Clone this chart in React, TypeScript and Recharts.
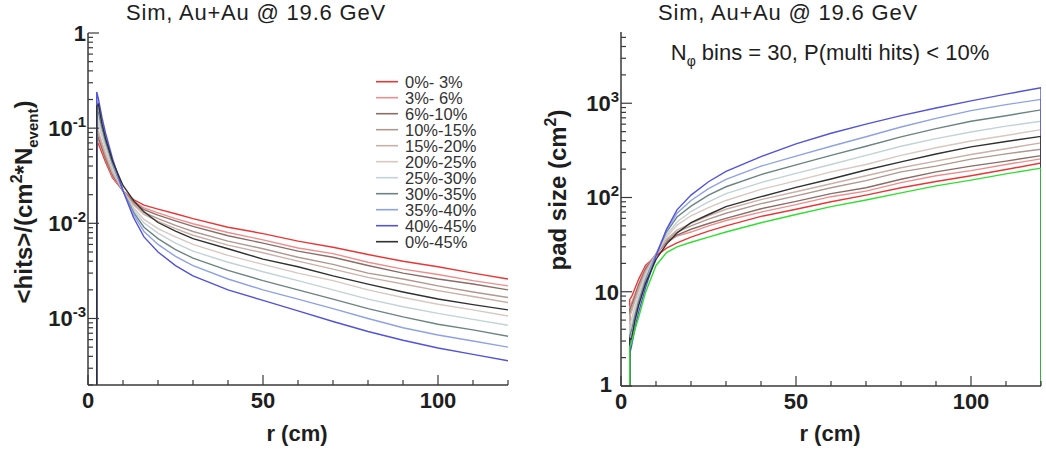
import React from 'react';
import { LineChart, Line, XAxis, YAxis } from 'recharts';

// r (cm) sampling points, shared by both panels
const R = [2.5, 3, 4, 5, 7, 10, 13, 16, 20, 25, 30, 40, 50, 60, 70, 80, 90, 100, 110, 120];

const CENT = ['0%- 3%', '3%- 6%', '6%-10%', '10%-15%', '15%-20%', '20%-25%', '25%-30%', '30%-35%', '35%-40%', '40%-45%', '0%-45%'];
const COLORS = ['#ee3434', '#f08c8c', '#8a6e66', '#b09890', '#cbb0a8', '#d8c8c0', '#c2d2d6', '#6c8480', '#8ea2e6', '#5252de', '#303030'];
const LIMIT_COLOR = '#30e030';

// left panel: <hits>/(cm^2 * N_event)
const hits00_03 = [0.072, 0.068, 0.055, 0.044, 0.030, 0.022, 0.0178, 0.0155, 0.0141, 0.0126, 0.0112, 0.0091, 0.0078, 0.0065, 0.0056, 0.0047, 0.0040, 0.0035, 0.0030, 0.0026];
const hits03_06 = [0.081, 0.074, 0.059, 0.047, 0.031, 0.022, 0.0171, 0.0145, 0.0129, 0.0112, 0.0099, 0.0080, 0.0067, 0.0055, 0.0048, 0.0039, 0.0033, 0.0029, 0.0025, 0.0022];
const hits06_10 = [0.086, 0.079, 0.062, 0.048, 0.032, 0.022, 0.0167, 0.0139, 0.0122, 0.0106, 0.0093, 0.0074, 0.0062, 0.0051, 0.0044, 0.0036, 0.0030, 0.0026, 0.0023, 0.0020];
const hits10_15 = [0.095, 0.086, 0.067, 0.051, 0.0335, 0.022, 0.0161, 0.0130, 0.0112, 0.0095, 0.0082, 0.0065, 0.0054, 0.0044, 0.0037, 0.0030, 0.0026, 0.0022, 0.0019, 0.00166];
const hits15_20 = [0.102, 0.092, 0.070, 0.054, 0.0345, 0.022, 0.0157, 0.0124, 0.0105, 0.0088, 0.0075, 0.0059, 0.0049, 0.0040, 0.0033, 0.0027, 0.0023, 0.00196, 0.0017, 0.00147];
const hits20_25 = [0.125, 0.110, 0.081, 0.060, 0.037, 0.022, 0.0146, 0.0110, 0.0088, 0.0072, 0.0060, 0.0046, 0.0037, 0.0030, 0.0025, 0.0020, 0.00166, 0.00141, 0.00123, 0.00106];
const hits25_30 = [0.143, 0.125, 0.089, 0.065, 0.039, 0.022, 0.0139, 0.0101, 0.0079, 0.0062, 0.0051, 0.0039, 0.0031, 0.0025, 0.0020, 0.0016, 0.00133, 0.00113, 0.00098, 0.00085];
const hits30_35 = [0.167, 0.144, 0.100, 0.072, 0.042, 0.022, 0.0131, 0.0091, 0.0069, 0.0053, 0.0043, 0.0032, 0.0025, 0.0020, 0.0016, 0.00127, 0.00104, 0.00087, 0.00076, 0.00065];
const hits35_40 = [0.196, 0.166, 0.111, 0.079, 0.044, 0.022, 0.0124, 0.0082, 0.0060, 0.0045, 0.0036, 0.0026, 0.0020, 0.0016, 0.00127, 0.00100, 0.0008, 0.00067, 0.00058, 0.0005];
const hits40_45 = [0.24, 0.20, 0.129, 0.089, 0.048, 0.022, 0.0115, 0.0072, 0.0050, 0.0036, 0.0028, 0.0020, 0.00155, 0.0012, 0.00093, 0.00073, 0.00059, 0.00049, 0.00042, 0.00036];
const hits00_45 = [0.17, 0.178, 0.11, 0.078, 0.045, 0.025, 0.0174, 0.0132, 0.0102, 0.0083, 0.0069, 0.0054, 0.0042, 0.0035, 0.0028, 0.0023, 0.0019, 0.0016, 0.0014, 0.00123];

// right panel: pad size (cm^2)
const pad00_03 = [8.3, 8.8, 10.9, 13.5, 19, 24, 29, 33, 38, 44, 50, 63, 75, 90, 106, 127, 148, 170, 198, 232];
const pad03_06 = [6.9, 7.6, 9.5, 11.9, 18, 25, 33, 39, 43, 50, 57, 70, 84, 102, 117, 144, 170, 193, 224, 257];
const pad06_10 = [6.5, 7.1, 9.0, 11.7, 17.5, 25, 34, 40, 46, 53, 60, 76, 91, 110, 127, 156, 187, 215, 243, 278];
const pad10_15 = [5.9, 6.5, 8.4, 11.0, 16.7, 25, 35, 43, 50, 59, 68, 86, 104, 127, 151, 187, 215, 255, 290, 325];
const pad15_20 = [5.5, 6.1, 8.0, 10.4, 16.2, 25, 36, 45, 53, 64, 75, 95, 115, 140, 170, 207, 243, 286, 329, 380];
const pad20_25 = [4.5, 5.1, 6.9, 9.3, 15.1, 25, 38, 51, 64, 78, 93, 122, 150, 187, 224, 280, 337, 397, 455, 525];
const pad25_30 = [3.9, 4.5, 6.3, 8.6, 14.4, 25, 40, 55, 71, 90, 110, 144, 180, 224, 280, 350, 421, 496, 571, 645];
const pad30_35 = [3.4, 3.9, 5.6, 7.8, 13.3, 25, 43, 62, 81, 106, 130, 175, 222, 280, 350, 440, 538, 644, 737, 850];
const pad35_40 = [2.9, 3.4, 5.0, 7.1, 12.7, 25, 45, 68, 93, 124, 156, 215, 275, 350, 441, 560, 690, 836, 966, 1100];
const pad40_45 = [2.2, 2.65, 4.1, 6.0, 11, 24, 46, 74, 106, 147, 189, 272, 370, 480, 600, 740, 890, 1060, 1250, 1460];
const pad00_45 = [3.2, 3.1, 5.0, 7.1, 12.2, 22, 32, 42, 54, 66, 80, 102, 128, 157, 196, 239, 289, 344, 393, 445];
const padLimit = [2.6, 2.9, 4.0, 5.3, 9.8, 19, 26, 30, 33.5, 38, 43, 54, 66, 80, 94, 112, 133, 153, 178, 205];

const HITS = [hits00_03, hits03_06, hits06_10, hits10_15, hits15_20, hits20_25, hits25_30, hits30_35, hits35_40, hits40_45, hits00_45];
const PADS = [pad00_03, pad03_06, pad06_10, pad10_15, pad15_20, pad20_25, pad25_30, pad30_35, pad35_40, pad40_45, pad00_45, padLimit];

const X_TICKS = [0, 10, 20, 30, 40, 50, 60, 70, 80, 90, 100, 110, 120];
const X_LABELS = [0, 50, 100];
const Y_LABELS_L = [{ v: 1, base: '1', exp: '' }, { v: 0.1, base: '10', exp: '-1' }, { v: 0.01, base: '10', exp: '-2' }, { v: 0.001, base: '10', exp: '-3' }];
const Y_LABELS_R = [{ v: 1, base: '1', exp: '' }, { v: 10, base: '10', exp: '' }, { v: 100, base: '10', exp: '2' }, { v: 1000, base: '10', exp: '3' }];

const DOM_L: [number, number] = [2e-4, 1];
const DOM_R: [number, number] = [1, 5700];

const FONT = '"Liberation Sans", Arial, Helvetica, sans-serif';
const FRAME = '#3a3a3a';
const TXT = '#1e1e1e';

function logTicks(lo: number, hi: number) {
  const out: number[] = [];
  for (let e = -4; e <= 3; e++) {
    for (let m = 1; m <= 9; m++) {
      const v = m * Math.pow(10, e);
      if (v >= lo * 0.999 && v <= hi * 1.001) out.push(v);
    }
  }
  return out;
}

const findLabel = (labels: typeof Y_LABELS_L, v: number) =>
  labels.find(l => Math.abs(Math.log10(l.v) - Math.log10(v)) < 1e-6);

// table with a leading vertical edge (histogram starts at r = 2.5) and optional drop at r = 120
function buildRows(series: number[][], floor: number, dropEnd: boolean) {
  const first: Record<string, number> = { r: R[0] };
  series.forEach((_, k) => { first[`s${k}`] = floor; });
  const body = R.map((r, i) => {
    const row: Record<string, number> = { r };
    series.forEach((s, k) => { row[`s${k}`] = s[i]; });
    return row;
  });
  const rows = [first, ...body];
  if (dropEnd) {
    const last: Record<string, number> = { r: R[R.length - 1] };
    series.forEach((_, k) => { last[`s${k}`] = floor; });
    rows.push(last);
  }
  return rows;
}

const leftRows = buildRows(HITS, DOM_L[0], false);
const rightRows = buildRows(PADS, DOM_R[0], true);

const XTick = (props: any) => {
  const { x, y, payload, side } = props;
  const v = payload.value;
  const major = X_LABELS.includes(v);
  const len = major ? 10 : 5;
  const dir = side === 'top' ? 1 : -1;
  return (
    <g>
      <line x1={x} x2={x} y1={y} y2={y + dir * len} stroke={FRAME} strokeWidth={1.2} />
      {side === 'bottom' && major && (
        <text x={x} y={y + 23} textAnchor="middle" fontFamily={FONT} fontWeight="bold" fontSize={22} fill={TXT}>
          {v}
        </text>
      )}
    </g>
  );
};

const YTick = (props: any) => {
  const { x, y, payload, side, labels, bottomShift } = props;
  const lab = findLabel(labels, payload.value);
  const len = lab ? 11 : 5;
  const dir = side === 'left' ? 1 : -1;
  // the lowest label of the right panel sits left of the "0" of the r axis
  const atBottom = bottomShift && lab && lab.base === '1';
  return (
    <g>
      <line x1={x} x2={x + dir * len} y1={y} y2={y} stroke={FRAME} strokeWidth={1.2} />
      {side === 'left' && lab && (
        <text x={x - (atBottom ? 9 : 2)} y={y + (atBottom ? 6 : 8)} textAnchor="end" fontFamily={FONT}
          fontWeight="bold" fontSize={22} fill={TXT}>
          {lab.base}
          {lab.exp && <tspan dy={-9} fontSize={15}>{lab.exp}</tspan>}
        </text>
      )}
    </g>
  );
};

function Panel({ rows, n, domain, labels, colors, width, margin, bottomShift }: any) {
  const yTicks = logTicks(domain[0], domain[1]);
  const axisLine = { stroke: FRAME, strokeWidth: 1.5 };
  return (
    <LineChart width={width} height={456} data={rows} margin={margin}>
      <XAxis xAxisId="b" dataKey="r" type="number" domain={[0, 120]} ticks={X_TICKS} interval={0}
        allowDataOverflow height={40} tickLine={false} tickSize={0} tickMargin={0} axisLine={axisLine}
        tick={(p: any) => <XTick {...p} side="bottom" />} />
      <XAxis xAxisId="t" orientation="top" dataKey="r" type="number" domain={[0, 120]} ticks={X_TICKS} interval={0}
        allowDataOverflow height={0} tickLine={false} tickSize={0} tickMargin={0} axisLine={axisLine}
        tick={(p: any) => <XTick {...p} side="top" />} />
      <YAxis yAxisId="l" type="number" scale="log" domain={domain} ticks={yTicks} interval={0}
        allowDataOverflow width={60} tickLine={false} tickSize={0} tickMargin={0} axisLine={axisLine}
        tick={(p: any) => <YTick {...p} side="left" labels={labels} bottomShift={bottomShift} />} />
      <YAxis yAxisId="r" orientation="right" type="number" scale="log" domain={domain} ticks={yTicks} interval={0}
        allowDataOverflow width={0} tickLine={false} tickSize={0} tickMargin={0} axisLine={axisLine}
        tick={(p: any) => <YTick {...p} side="right" labels={labels} />} />
      {Array.from({ length: n }, (_, k) => (
        <Line key={k} xAxisId="b" yAxisId="l" dataKey={`s${k}`} type="linear" stroke={colors[k]}
          strokeWidth={1.4} dot={false} isAnimationActive={false} />
      ))}
    </LineChart>
  );
}

export default function App() {
  return (
    <div style={{ position: 'absolute', left: 0, top: 0, width: 1046, height: 456, background: '#fff', overflow: 'hidden' }}>
      <div style={{ position: 'absolute', left: 0, top: 0 }}>
        <Panel rows={leftRows} n={HITS.length} domain={DOM_L} labels={Y_LABELS_L} colors={COLORS}
          width={520} margin={{ top: 33, right: 12, bottom: 31, left: 28 }} />
      </div>
      <div style={{ position: 'absolute', left: 520, top: 0 }}>
        <Panel rows={rightRows} n={PADS.length} domain={DOM_R} labels={Y_LABELS_R} colors={[...COLORS, LIMIT_COLOR]}
          width={526} margin={{ top: 32, right: 5, bottom: 30, left: 41 }} bottomShift />
      </div>
      <svg width={1046} height={456} style={{ position: 'absolute', left: 0, top: 0, pointerEvents: 'none' }}
        fontFamily={FONT} fill={TXT}>
        <text x={256} y={20} textAnchor="middle" fontSize={22} letterSpacing={0.8}>Sim, Au+Au @ 19.6 GeV</text>
        <text x={788} y={20} textAnchor="middle" fontSize={22} letterSpacing={0.8}>Sim, Au+Au @ 19.6 GeV</text>
        <text x={830} y={60} textAnchor="middle" fontSize={22}>
          N<tspan dy={6} fontSize={14}>φ</tspan><tspan dy={-6}> bins = 30, P(multi hits) &lt; 10%</tspan>
        </text>
        <text x={297} y={441} textAnchor="middle" fontSize={22} fontWeight="bold">r (cm)</text>
        <text x={830} y={441} textAnchor="middle" fontSize={22} fontWeight="bold">r (cm)</text>
        <text transform="translate(32,202) rotate(-90)" textAnchor="middle" fontSize={24} fontWeight="bold">
          &lt;hits&gt;/(cm<tspan dy={-10} fontSize={16}>2</tspan><tspan dy={10}>*N</tspan>
          <tspan dy={6} fontSize={15}>event</tspan><tspan dy={-6}>)</tspan>
        </text>
        <text transform="translate(566,190) rotate(-90)" textAnchor="middle" fontSize={24} fontWeight="bold">
          pad size (cm<tspan dy={-10} fontSize={16}>2</tspan><tspan dy={10}>)</tspan>
        </text>
        {CENT.map((c, i) => {
          const y = 81.7 + 16 * i;
          return (
            <g key={c}>
              <line x1={376} x2={398} y1={y} y2={y} stroke={COLORS[i]} strokeWidth={1.6} />
              <text x={405} y={y + 6} fontSize={16.5} fill="#333">{c}</text>
            </g>
          );
        })}
      </svg>
    </div>
  );
}
